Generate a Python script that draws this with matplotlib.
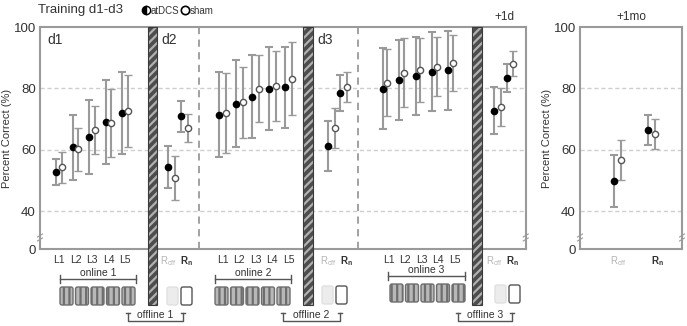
import matplotlib
matplotlib.use('Agg')
import matplotlib.pyplot as plt
import matplotlib.transforms as mtransforms
from matplotlib.patches import Rectangle, FancyBboxPatch
import numpy as np

plt.rcParams['font.family'] = ['Liberation Sans', 'DejaVu Sans']
plt.rcParams['mathtext.default'] = 'regular'
plt.rcParams['hatch.linewidth'] = 1.6

# ---- data (mean, error bar half-length) ----
online_labels = ['L1', 'L2', 'L3', 'L4', 'L5']
ret_labels = ['R$_{off}$', 'R$_{n}$']

on1_tdcs = [52.7, 60.9, 64.2, 69.1, 72.0]
on1_tdcs_err = [4.3, 10.6, 12.0, 13.6, 13.4]
on1_sham = [54.3, 60.2, 66.6, 68.8, 72.6]
on1_sham_err = [5.1, 7.0, 7.8, 11.1, 11.7]

d2_tdcs = [54.5, 70.9]
d2_tdcs_err = [6.8, 5.1]
d2_sham = [50.9, 67.1]
d2_sham_err = [7.2, 4.7]

on2_tdcs = [71.5, 75.0, 77.3, 79.9, 80.4]
on2_tdcs_err = [14.0, 14.2, 13.5, 13.6, 13.2]
on2_sham = [72.0, 75.5, 79.9, 80.8, 83.2]
on2_sham_err = [12.9, 11.6, 10.9, 11.5, 11.8]

d3_tdcs = [61.3, 78.4]
d3_tdcs_err = [8.2, 5.9]
d3_sham = [67.1, 80.4]
d3_sham_err = [6.5, 4.8]

on3_tdcs = [79.9, 82.7, 84.0, 85.5, 85.9]
on3_tdcs_err = [13.2, 13.0, 12.6, 13.0, 12.9]
on3_sham = [81.9, 85.1, 86.0, 87.0, 88.4]
on3_sham_err = [10.8, 11.2, 10.3, 9.6, 9.1]

d1p_tdcs = [72.8, 83.3]
d1p_tdcs_err = [7.8, 4.5]
d1p_sham = [73.9, 88.1]
d1p_sham_err = [6.3, 4.0]

mo_tdcs = [49.8, 66.6]
mo_tdcs_err = [8.4, 4.9]
mo_sham = [56.7, 65.2]
mo_sham_err = [6.6, 5.0]

# ---- layout ----
W, H = 687, 326
fig = plt.figure(figsize=(W / 100, H / 100), dpi=100)

def px_axes(x0, x1, y0, y1, **kw):
    return fig.add_axes([x0 / W, 1 - y1 / H, (x1 - x0) / W, (y1 - y0) / H], **kw)

Y_BOT = 27.7          # the broken axis: "0" sits here
GRAY = '#9a9a9a'
TXT = '#333333'
ON_STEP, RET_STEP, OFF = 16.5, 12.5, 2.8

ax = px_axes(40, 525.7, 27, 249)
ax2 = px_axes(580, 682, 27, 249)

def style(a):
    a.set_ylim(Y_BOT, 100)
    a.set_yticks([Y_BOT, 40, 60, 80, 100])
    a.set_yticklabels(['0', '40', '60', '80', '100'])
    for y in (40, 60, 80):
        a.axhline(y, color='#cfcfcf', lw=1, ls=(0, (3, 2)), zorder=0)
    for s in a.spines.values():
        s.set_color(GRAY)
        s.set_linewidth(1.5)
    a.tick_params(axis='y', length=0, pad=3, labelsize=9.5, labelcolor=TXT)
    a.tick_params(axis='x', length=0, pad=4, labelsize=7.5, labelcolor=TXT)
    a.set_ylabel('Percent Correct (%)', fontsize=8, color=TXT, labelpad=1)

def draw(a, xs, tdcs, tdcs_err, sham, sham_err, off=OFF):
    xs = np.asarray(xs)
    a.errorbar(xs - off, tdcs, yerr=tdcs_err, fmt='o', ms=4.5, mfc='black', mec='black',
               ecolor=GRAY, elinewidth=1.5, capsize=3, capthick=1.5, zorder=3)
    a.errorbar(xs + off, sham, yerr=sham_err, fmt='o', ms=4.5, mfc='white', mec='#555555',
               mew=1, ecolor=GRAY, elinewidth=1.5, capsize=3, capthick=1.5, zorder=3)

style(ax)
style(ax2)
ax.set_xlim(0, 485.7)
ax2.set_xlim(0, 102)

# group positions, in main-axis units
x_on1 = 19 + ON_STEP * np.arange(5)
x_d2 = 131.7 + RET_STEP * np.arange(2)
x_on2 = 182.7 + ON_STEP * np.arange(5)
x_d3 = 291.3 + RET_STEP * np.arange(2)
x_on3 = 345 + 16.4 * np.arange(5)
x_d1p = 457.3 + RET_STEP * np.arange(2)
x_mo = np.array([37.7, 71.2])

draw(ax, x_on1, on1_tdcs, on1_tdcs_err, on1_sham, on1_sham_err)
draw(ax, x_d2, d2_tdcs, d2_tdcs_err, d2_sham, d2_sham_err, off=3.3)
draw(ax, x_on2, on2_tdcs, on2_tdcs_err, on2_sham, on2_sham_err, off=3.3)
draw(ax, x_d3, d3_tdcs, d3_tdcs_err, d3_sham, d3_sham_err, off=3.5)
draw(ax, x_on3, on3_tdcs, on3_tdcs_err, on3_sham, on3_sham_err, off=2.3)
draw(ax, x_d1p, d1p_tdcs, d1p_tdcs_err, d1p_sham, d1p_sham_err, off=3.2)
draw(ax2, x_mo, mo_tdcs, mo_tdcs_err, mo_sham, mo_sham_err, off=3.3)

for xv in (158.5, 318.3):
    ax.axvline(xv, color=GRAY, lw=1.3, ls=(0, (4, 3)), zorder=1)

xt = np.concatenate([x_on1, x_d2, x_on2, x_d3, x_on3 + 4, x_d1p])
xl = online_labels + ret_labels + online_labels + ret_labels + online_labels + ret_labels
ax.set_xticks(xt)
ax.set_xticklabels(xl)
ax2.set_xticks(x_mo + 4)
ax2.set_xticklabels(ret_labels)
for a in (ax, ax2):
    for lab in a.get_xticklabels():
        txt = lab.get_text()
        if not txt.startswith('R'):
            continue
        lab.set_fontsize(7)
        if 'off' in txt:
            lab.set_color('#b5b5b5')
            dx = -3
        else:
            lab.set_fontweight('bold')
            dx = 2.5
        lab.set_transform(lab.get_transform() +
                          mtransforms.ScaledTranslation(dx / 100, 0, fig.dpi_scale_trans))

# ---- overlay in pixel coordinates for the schematic below ----
ov = fig.add_axes([0, 0, 1, 1], zorder=5)
ov.set_xlim(0, W)
ov.set_ylim(H, 0)
ov.axis('off')

for x0, x1 in ((148, 157), (303, 312.5), (472, 482)):
    ov.add_patch(Rectangle((x0, 27), x1 - x0, 278, facecolor='#4d4d4d',
                           edgecolor='#b0b0b0', hatch='////', lw=0))
    ov.add_patch(Rectangle((x0, 27), x1 - x0, 278, fill=False, edgecolor='#3a3a3a', lw=0.8))

def box(x0, y0, w, h, fc, ec, hatch=None):
    ov.add_patch(FancyBboxPatch((x0, y0), w, h, boxstyle='round,pad=0,rounding_size=2',
                                facecolor=fc, edgecolor=ec, lw=1, hatch=hatch))

for start, y0 in ((60, 287), (215, 287), (390, 284)):
    for i in range(5):
        box(start + i * 15.5, y0, 13, 18, '#b8b8b8', '#6e6e6e', hatch='|||')

for start, y0 in ((167, 287), (322, 286), (495, 285)):
    box(start, y0, 11, 18, '#ececec', '#e0e0e0')
    box(start + 14, y0, 11, 18, 'white', '#555555')

def bracket_top(x0, x1, y, text):
    ov.plot([x0, x1], [y, y], color='#555555', lw=1)
    ov.plot([x0, x0], [y - 4, y + 4], color='#555555', lw=1)
    ov.plot([x1, x1], [y - 4, y + 4], color='#555555', lw=1)
    ov.text((x0 + x1) / 2, y - 1, text, ha='center', va='bottom', fontsize=7.5, color=TXT)

def bracket_bottom(x0, x1, y, text):
    ov.plot([x0, x0, x1, x1], [y - 8, y, y, y - 8], color='#555555', lw=1)
    ov.plot([x0 - 2, x0 + 2], [y - 8, y - 8], color='#555555', lw=1)
    ov.plot([x1 - 2, x1 + 2], [y - 8, y - 8], color='#555555', lw=1)
    ov.text((x0 + x1) / 2, y - 0.5, text, ha='center', va='bottom', fontsize=7.5, color=TXT)

bracket_top(60, 136, 279, 'online 1')
bracket_top(215, 291, 279, 'online 2')
bracket_top(388, 465, 276, 'online 3')
bracket_bottom(128, 183, 321, 'offline 1')
bracket_bottom(283, 340, 321, 'offline 2')
bracket_bottom(458, 512, 321, 'offline 3')

# small axis-break marks
for xb in (40, 525.7, 580, 682):
    ov.plot([xb - 2.5, xb + 2.5], [237, 234], color=GRAY, lw=0.8)
    ov.plot([xb - 2.5, xb + 2.5], [241, 238], color=GRAY, lw=0.8)

# panel labels and title
ov.text(47, 40, 'd1', fontsize=10, color=TXT, va='center')
ov.text(161, 40, 'd2', fontsize=10, color=TXT, va='center')
ov.text(317, 40, 'd3', fontsize=10, color=TXT, va='center')
ov.text(504, 17, '+1d', fontsize=8.5, color=TXT, ha='center', va='center')
ov.text(631, 17, '+1mo', fontsize=8.5, color=TXT, ha='center', va='center')
ov.text(38, 10, 'Training d1-d3', fontsize=9.5, color=TXT, va='center')
ov.plot([146], [10], marker='o', ms=6, fillstyle='left', mfc='black', mfcalt='white',
        mec='black', mew=1, ls='none')
ov.text(150.5, 10.5, 'atDCS', fontsize=7, color=TXT, va='center')
ov.plot([185], [10], marker='o', ms=6, mfc='white', mec='black', mew=1.2, ls='none')
ov.text(189.5, 10.5, 'sham', fontsize=7, color=TXT, va='center')

fig.savefig('out.png', dpi=100)
